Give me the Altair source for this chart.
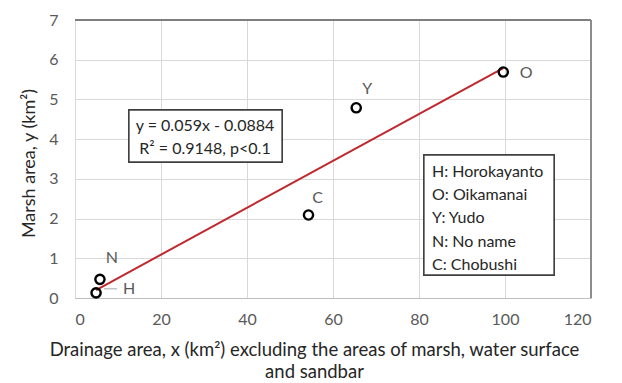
import altair as alt
import pandas as pd

# data
codes = ["H", "N", "C", "Y", "O"]
drainage = [4.9, 5.8, 54.3, 65.4, 99.6]
marsh = [0.13, 0.47, 2.09, 4.79, 5.69]

fit_x = [4.9, 99.6]
slope = 0.059
intercept = -0.0884

x_ticks = [0, 20, 40, 60, 80, 100, 120]
y_ticks = [0, 1, 2, 3, 4, 5, 6, 7]

legend_lines = ["H: Horokayanto", "O: Oikamanai", "Y:  Yudo", "N: No name", "C: Chobushi"]
eq_lines = ["y = 0.059x - 0.0884", "R² = 0.9148, p<0.1"]

df = pd.DataFrame({"code": codes, "x": drainage, "y": marsh})
fit = pd.DataFrame({"x": fit_x, "y": [slope * v + intercept for v in fit_x]})

FONT = "Lato"
W, H = 516, 278

xs = alt.Scale(domain=[0, 120], nice=False)
ys = alt.Scale(domain=[0, 7], nice=False)

xaxis = alt.Axis(values=x_ticks, grid=True, gridColor="#d9d9d9",
                 domainColor="#bfbfbf", ticks=False, labelFont=FONT, labelFontSize=16,
                 labelColor="#595959", labelPadding=13, labelOverlap=False,
                 title=["Drainage area, x (km²) excluding the areas of marsh, water surface", "and sandbar"],
                 titleFont=FONT, titleFontSize=18.5, titleFontWeight="normal", titleColor="#262626",
                 titleX=239, titleY=42, titleBaseline="top", titleAnchor="middle", titleLineHeight=22)
yaxis = alt.Axis(values=y_ticks, grid=True, gridColor="#d9d9d9", domain=False, ticks=False,
                 labelFont=FONT, labelFontSize=16, labelColor="#595959", labelPadding=17,
                 labelOverlap=False,
                 title="Marsh area, y (km²)", titleFont=FONT, titleFontSize=18,
                 titleFontWeight="normal", titleColor="#262626", titleX=-46, titleY=143,
                 titleBaseline="middle", titleAnchor="middle")

X = alt.X("x:Q", scale=xs, axis=xaxis)
Y = alt.Y("y:Q", scale=ys, axis=yaxis)

base = alt.Chart(df)

frame = base.mark_point(opacity=0).encode(x=X, y=Y)

toprule = alt.Chart(df).mark_rule(color="#7f7f7f", strokeWidth=1.5).encode(
    x=alt.value(0), x2=alt.value(W), y=alt.value(0))
rightrule = alt.Chart(df).mark_rule(color="#8c8c8c", strokeWidth=1.2).encode(
    x=alt.value(W), y=alt.value(0), y2=alt.value(H))

line = alt.Chart(fit).mark_line(color="#c0282d", strokeWidth=2).encode(x=X, y=Y)

pts = base.mark_point(shape="circle", size=85, filled=False, color="black",
                      strokeWidth=2.4, opacity=1).encode(x=X, y=Y)

offsets = {"H": (33, -4), "N": (12, -21), "C": (9, -17), "Y": (11, -19), "O": (23, 1)}
labels = []
for c in codes:
    dx, dy = offsets[c]
    labels.append(base.transform_filter(alt.datum.code == c).mark_text(
        font=FONT, fontSize=16, color="#595959", dx=dx, dy=dy).encode(
        x=X, y=Y, text="code:N"))

leader = base.transform_filter(alt.datum.code == "H").mark_rule(
    color="#a6a6a6", strokeWidth=1, xOffset=8, x2Offset=21, yOffset=-4, y2Offset=-4).encode(
    x=X, x2="x:Q", y=Y)

eqbox = alt.Chart(df).mark_rect(fill="white", stroke="#404040", strokeWidth=1.3).encode(
    x=alt.value(54), x2=alt.value(207), y=alt.value(90), y2=alt.value(142))
eqtexts = []
for i, t in enumerate(eq_lines):
    eqtexts.append(alt.Chart(pd.DataFrame({"t": [t]})).mark_text(
        font=FONT, fontSize=16, color="#262626", align="center", baseline="middle").encode(
        x=alt.value(130), y=alt.value(106 + 23 * i), text="t:N"))

lgbox = alt.Chart(df).mark_rect(fill="white", stroke="#404040", strokeWidth=1.3).encode(
    x=alt.value(349), x2=alt.value(479), y=alt.value(135), y2=alt.value(255))
lgtexts = []
for i, t in enumerate(legend_lines):
    lgtexts.append(alt.Chart(pd.DataFrame({"t": [t]})).mark_text(
        font=FONT, fontSize=16, color="#262626", align="left", baseline="middle").encode(
        x=alt.value(357), y=alt.value(152 + 23.2 * i), text="t:N"))

chart = alt.layer(frame, toprule, rightrule, line, pts, leader, *labels, eqbox, *eqtexts,
                  lgbox, *lgtexts).properties(
    width=W, height=H,
    autosize=alt.AutoSizeParams(type="none"),
    padding={"left": 67, "top": 12, "right": 23, "bottom": 89},
).configure_view(stroke=None).configure(background="white")

chart.save("out.html", embed_options={"renderer": "svg", "actions": False})
